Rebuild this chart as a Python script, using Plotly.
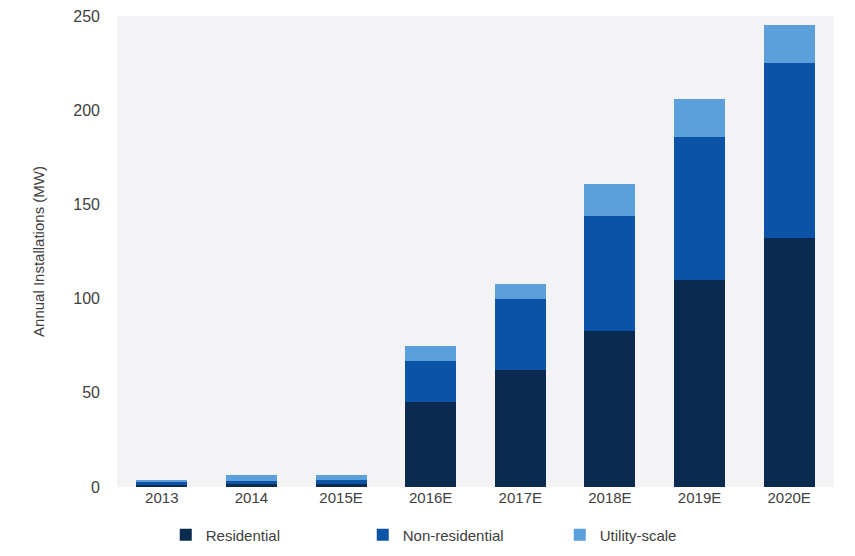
import plotly.graph_objects as go

categories = ["2013", "2014", "2015E", "2016E", "2017E", "2018E", "2019E", "2020E"]
residential = [1.0, 1.5, 1.5, 45, 62, 83, 110, 132]
non_residential = [2.0, 1.5, 2.0, 22, 38, 61, 76, 93]
utility_scale = [0.3, 3.3, 2.8, 8, 8, 17, 20, 20]

colors = {"Residential": "#0a2a50", "Non-residential": "#0b53a6", "Utility-scale": "#5b9fdb"}

fig = go.Figure()
for name, vals in [("Residential", residential), ("Non-residential", non_residential), ("Utility-scale", utility_scale)]:
    fig.add_trace(go.Bar(x=categories, y=vals, name=name, marker=dict(color=colors[name], line=dict(width=0))))

font = dict(family="Liberation Sans, Arial, sans-serif", size=15, color="#404040")
tickfont = dict(family="Liberation Sans, Arial, sans-serif", size=16, color="#404040")
fig.update_layout(
    barmode="stack",
    bargap=0.43,
    width=847, height=548,
    margin=dict(l=109, r=21, t=8, b=69, autoexpand=False),
    paper_bgcolor="white",
    plot_bgcolor="#f3f3f5",
    font=font,
    showlegend=True,
    legend=dict(orientation="h", x=0.068, xanchor="left", xref="paper",
                y=0.008, yanchor="bottom", yref="container",
                entrywidth=152, entrywidthmode="pixels", font=font, traceorder="normal"),
    xaxis=dict(showgrid=False, zeroline=False, showline=False, tickfont=font, ticks=""),
    yaxis=dict(range=[0, 250], dtick=50, showgrid=False, zeroline=False, showline=False,
               tickfont=tickfont, ticklabelstandoff=16, ticklabeloverflow="allow",
               title=dict(text="Annual Installations (MW)", font=font, standoff=25)),
)
fig.write_html("out.html")
